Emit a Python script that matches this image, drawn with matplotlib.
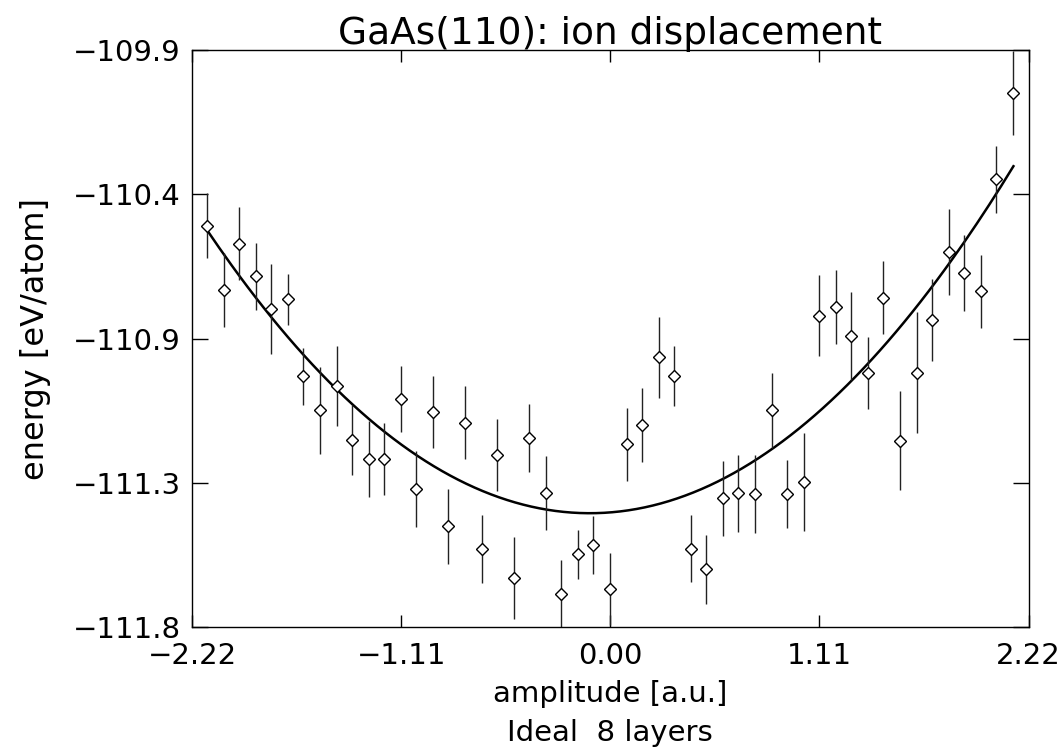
import matplotlib
matplotlib.use('Agg')
import matplotlib.pyplot as plt
import numpy as np

# amplitude of the ion displacement [a.u.]
amplitude = [-2.14, -2.05, -1.97, -1.88, -1.80, -1.71, -1.63, -1.54, -1.45, -1.37,
             -1.28, -1.20, -1.11, -1.03, -0.94, -0.86, -0.77, -0.68, -0.60, -0.51,
             -0.43, -0.34, -0.26, -0.17, -0.09, 0.00, 0.09, 0.17, 0.26, 0.34,
             0.43, 0.51, 0.60, 0.68, 0.77, 0.86, 0.94, 1.03, 1.11, 1.20,
             1.28, 1.37, 1.45, 1.54, 1.63, 1.71, 1.80, 1.88, 1.97, 2.05, 2.14]

# energy per atom [eV]
energy = [-110.479, -110.690, -110.538, -110.645, -110.752, -110.720, -110.975, -111.087,
          -111.006, -111.184, -111.247, -111.247, -111.048, -111.345, -111.092, -111.469,
          -111.127, -111.542, -111.233, -111.639, -111.178, -111.359, -111.690, -111.561,
          -111.529, -111.674, -111.199, -111.136, -110.912, -110.974, -111.542, -111.610,
          -111.376, -111.360, -111.361, -111.087, -111.362, -111.322, -110.775, -110.746,
          -110.841, -110.963, -110.715, -111.187, -110.962, -110.789, -110.565, -110.634,
          -110.694, -110.326, -110.042]

# error bar half heights [eV]
error = [0.107, 0.122, 0.121, 0.110, 0.148, 0.084, 0.095, 0.143, 0.132, 0.116,
         0.126, 0.119, 0.109, 0.125, 0.119, 0.125, 0.120, 0.112, 0.119, 0.134,
         0.111, 0.122, 0.110, 0.082, 0.096, 0.119, 0.119, 0.122, 0.133, 0.099,
         0.110, 0.114, 0.124, 0.128, 0.128, 0.122, 0.112, 0.161, 0.133, 0.122,
         0.145, 0.119, 0.121, 0.163, 0.200, 0.136, 0.141, 0.124, 0.120, 0.111, 0.138]

xticks = [-2.22, -1.11, 0.00, 1.11, 2.22]
xtick_labels = ['\u22122.22', '\u22121.11', '0.00', '1.11', '2.22']
yticks = [-111.8, -111.325, -110.85, -110.375, -109.9]
ytick_labels = ['\u2212111.8', '\u2212111.3', '\u2212110.9', '\u2212110.4', '\u2212109.9']

plt.rcParams['font.family'] = ['DejaVu Sans']

fig = plt.figure(figsize=(10.62, 7.5), dpi=100)
ax = fig.add_axes([192/1062, 1 - 627/750, 836.5/1062, 577/750])

x = np.array(amplitude)
y = np.array(energy)
e = np.array(error)

# weighted quadratic fit of the energies
coef = np.polyfit(x, y, 2, w=1/e)
xf = np.linspace(x.min(), x.max(), 200)
ax.plot(xf, np.polyval(coef, xf), color='black', lw=1.8)

ax.errorbar(x, y, yerr=e, fmt='D', ms=6.5, mfc='white', mec='black', mew=1.0,
            ecolor='#222222', elinewidth=1.0, capsize=0)

ax.set_xlim(-2.22, 2.22)
ax.set_ylim(-111.8, -109.9)
ax.set_xticks(xticks)
ax.set_xticklabels(xtick_labels)
ax.set_yticks(yticks)
ax.set_yticklabels(ytick_labels)
ax.tick_params(axis='both', direction='in', top=True, right=True, labelsize=21,
               width=1.0, colors='black')
ax.tick_params(axis='x', length=8.5, pad=11)
ax.tick_params(axis='y', length=11.5, pad=8)
for s in ax.spines.values():
    s.set_linewidth(1.0)

ax.set_title('GaAs(110): ion displacement', fontsize=27, pad=4)
ax.set_xlabel('amplitude [a.u.]\nIdeal  8 layers', fontsize=21, linespacing=1.5, labelpad=7)
ax.set_ylabel('energy [eV/atom]', fontsize=23, labelpad=16)

fig.savefig('out.png', dpi=100, facecolor='white')
